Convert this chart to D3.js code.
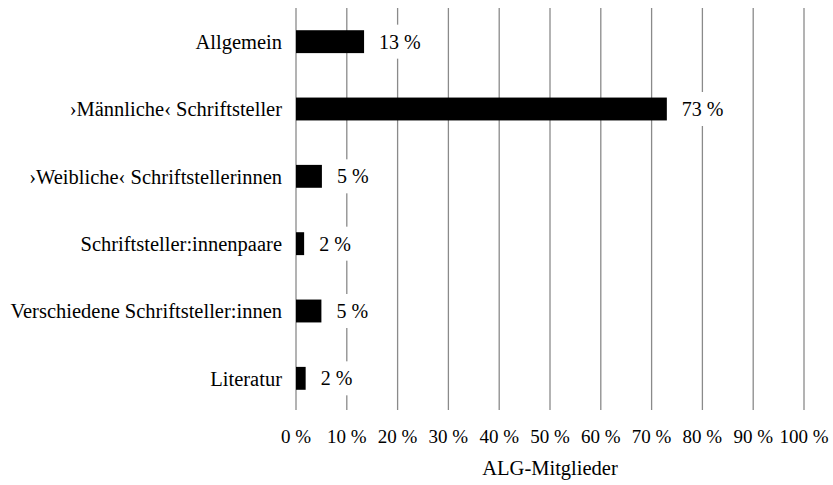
<!DOCTYPE html>
<html>
<head>
<meta charset="utf-8">
<script src="https://cdn.jsdelivr.net/npm/d3@7"></script>
<style>
  body { margin: 0; background: #fff; }
</style>
</head>
<body>
<svg id="chart" width="833" height="485"></svg>
<script>
// Chart data
var categories = [
    "Allgemein",
    "\u203AMännliche\u2039 Schriftsteller",
    "\u203AWeibliche\u2039 Schriftstellerinnen",
    "Schriftsteller:innenpaare",
    "Verschiedene Schriftsteller:innen",
    "Literatur"
];
var values = [13.4, 73.0, 5.1, 1.6, 5.0, 1.9];
var valueLabels = ["13 %", "73 %", "5 %", "2 %", "5 %", "2 %"];
var xTicks = [0, 10, 20, 30, 40, 50, 60, 70, 80, 90, 100];
var axisTitle = "ALG-Mitglieder";

var fontFamily = "'Liberation Serif', 'DejaVu Serif', serif";

var svg = d3.select("#chart")
    .attr("font-family", fontFamily)
    .attr("font-size", 19);

var x = d3.scaleLinear().domain([0, 100]).range([296, 804]);
var y = d3.scaleBand().domain(categories).range([8, 412]).paddingInner(0.66).paddingOuter(0.33);

// Gridlines
svg.append("g")
    .selectAll("line")
    .data(xTicks)
    .join("line")
    .attr("x1", d => x(d)).attr("x2", d => x(d))
    .attr("y1", 8).attr("y2", 410)
    .attr("stroke", "#8a8a8a")
    .attr("stroke-width", 1.3);

// Bars
svg.append("g")
    .selectAll("rect")
    .data(values)
    .join("rect")
    .attr("x", x(0))
    .attr("y", (d, i) => y(categories[i]))
    .attr("width", d => x(d) - x(0))
    .attr("height", y.bandwidth())
    .attr("fill", "#000");

// Value labels with white background masking the gridlines
var labels = svg.append("g")
    .selectAll("g")
    .data(values)
    .join("g")
    .attr("transform", (d, i) => `translate(${x(d) + 15},${y(categories[i]) + y.bandwidth() / 2})`);

labels.append("text")
    .attr("dy", "0.35em")
    .attr("font-size", 20)
    .text((d, i) => valueLabels[i]);

labels.each(function () {
    var g = d3.select(this);
    var bb = g.select("text").node().getBBox();
    g.insert("rect", "text")
        .attr("x", bb.x - 6)
        .attr("y", bb.y - 6)
        .attr("width", bb.width + 12)
        .attr("height", bb.height + 12)
        .attr("fill", "#fff");
});

// Category labels
svg.append("g")
    .selectAll("text")
    .data(categories)
    .join("text")
    .attr("x", 282)
    .attr("y", d => y(d) + y.bandwidth() / 2)
    .attr("dy", "0.35em")
    .attr("text-anchor", "end")
    .attr("font-size", 20.5)
    .text(d => d);

// X tick labels
svg.append("g")
    .selectAll("text")
    .data(xTicks)
    .join("text")
    .attr("x", d => x(d))
    .attr("y", 443)
    .attr("text-anchor", "middle")
    .text(d => d + " %");

// Axis title
svg.append("text")
    .attr("x", (x(0) + x(100)) / 2)
    .attr("y", 475)
    .attr("text-anchor", "middle")
    .attr("font-size", 20.5)
    .text(axisTitle);
</script>
</body>
</html>
